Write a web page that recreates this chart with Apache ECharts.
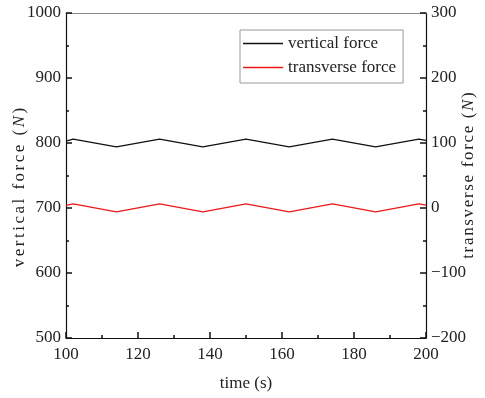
<!DOCTYPE html>
<html>
<head>
<meta charset="utf-8">
<script src="https://cdn.jsdelivr.net/npm/echarts@6/dist/echarts.min.js"></script>
<style>
  html, body { margin: 0; padding: 0; background: #fff; }
  #chart { width: 485px; height: 398px; }
</style>
</head>
<body>
<div id="chart"></div>
<script>
// time samples (s) at the corners of the zig-zag
const times = [100, 102, 114, 126, 138, 150, 162, 174, 186, 198, 200];
const verticalForce = [803, 806, 794, 806, 794, 806, 794, 806, 794, 806, 804];
const transverseForce = [4, 6.5, -6, 6.5, -6, 6.5, -6, 6.5, -6, 6.5, 4.5];

const FONT = 'Liberation Serif';
const txt = '#222';

const chart = echarts.init(document.getElementById('chart'));

const pair = (vals) => times.map((t, i) => [t, vals[i]]);

// the axis titles in the figure are letter-spaced; split them into rich fragments
const spaced = (label, unit) =>
  (label + ' (').split('').map((c) => '{a|' + (c === ' ' ? '\u00a0' : c) + '}').join('') +
  '{b|' + unit + '}{a|)}';
const nameRich = (pad) => ({
  a: { fontFamily: FONT, fontSize: 17, color: txt, padding: [0, pad] },
  b: { fontFamily: FONT, fontSize: 17, color: txt, fontStyle: 'italic', padding: [0, pad] },
});

chart.setOption({
  backgroundColor: '#fff',
  animation: false,
  grid: { left: 66, right: 59, top: 13, bottom: 60, outerBoundsMode: 'none', containLabel: false },
  legend: {
    orient: 'vertical',
    left: 240,
    top: 30,
    itemWidth: 40,
    itemHeight: 1.5,
    itemGap: 7,
    itemStyle: { borderWidth: 0 },
    padding: [5, 7, 7, 3],
    borderColor: '#999',
    borderWidth: 1,
    borderRadius: 0,
    textStyle: { fontFamily: FONT, fontSize: 17, color: txt },
    data: [
      { name: 'vertical force', icon: 'path://M0,0L40,0L40,1.5L0,1.5Z' },
      { name: 'transverse force', icon: 'path://M0,0L40,0L40,1.5L0,1.5Z' },
    ],
  },
  xAxis: [
    {
      type: 'value', min: 100, max: 200, interval: 20,
      name: 'time (s)', nameLocation: 'middle', nameGap: 37, nameMoveOverlap: false,
      nameTextStyle: { fontFamily: FONT, fontSize: 17, color: txt },
      axisLine: { onZero: false, lineStyle: { color: '#111', width: 1.2 } },
      axisTick: { inside: true, length: 6, lineStyle: { color: '#111', width: 1.5 } },
      minorTick: { show: true, splitNumber: 2, length: 3, lineStyle: { color: '#111', width: 1.5 } },
      axisLabel: { fontFamily: FONT, fontSize: 17, color: txt, margin: 8 },
      splitLine: { show: false },
    },
    {
      type: 'value', min: 100, max: 200, position: 'top',
      axisLine: { show: true, onZero: false, lineStyle: { color: '#888', width: 1.2 } },
      axisTick: { show: false }, axisLabel: { show: false }, splitLine: { show: false },
    },
  ],
  yAxis: [
    {
      type: 'value', min: 500, max: 1000, interval: 100,
      name: spaced('vertical force', 'N'), nameLocation: 'middle', nameGap: 38,
      nameMoveOverlap: false,
      nameTextStyle: { rich: nameRich(1.25), padding: [0, 24, 0, 0] },
      axisLine: { show: true, onZero: false, lineStyle: { color: '#111', width: 1.2 } },
      axisTick: { inside: true, length: 6, lineStyle: { color: '#111', width: 1.5 } },
      minorTick: { show: true, splitNumber: 2, length: 3, lineStyle: { color: '#111', width: 1.5 } },
      axisLabel: { fontFamily: FONT, fontSize: 17, color: txt, margin: 5, formatter: (v) => String(v) },
      splitLine: { show: false },
    },
    {
      type: 'value', min: -200, max: 300, interval: 100, position: 'right',
      name: spaced('transverse force', 'N'), nameLocation: 'middle', nameGap: 34,
      nameRotate: 90, nameMoveOverlap: false,
      nameTextStyle: { rich: nameRich(0.83) },
      axisLine: { show: true, onZero: false, lineStyle: { color: '#111', width: 1.2 } },
      axisTick: { inside: true, length: 6, lineStyle: { color: '#111', width: 1.5 } },
      minorTick: { show: true, splitNumber: 2, length: 3, lineStyle: { color: '#111', width: 1.5 } },
      axisLabel: {
        fontFamily: FONT, fontSize: 17, color: txt, margin: 5,
        formatter: (v) => String(v).replace('-', '\u2212'),
      },
      splitLine: { show: false },
    },
  ],
  series: [
    {
      name: 'vertical force', type: 'line', yAxisIndex: 0, xAxisIndex: 0,
      data: pair(verticalForce), showSymbol: false, symbol: 'none',
      lineStyle: { color: '#111', width: 1.3 }, itemStyle: { color: '#111' },
    },
    {
      name: 'transverse force', type: 'line', yAxisIndex: 1, xAxisIndex: 0,
      data: pair(transverseForce), showSymbol: false, symbol: 'none',
      lineStyle: { color: '#f01818', width: 1.3 }, itemStyle: { color: '#f01818' },
    },
  ],
});
</script>
</body>
</html>
